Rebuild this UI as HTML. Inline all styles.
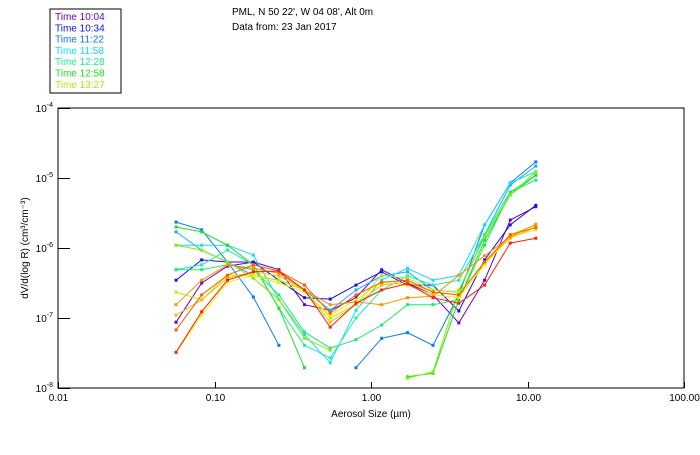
<!DOCTYPE html>
<html><head><meta charset="utf-8"><style>
body{margin:0;background:#fff;width:700px;height:450px;overflow:hidden;font-family:"Liberation Sans",sans-serif}
svg text{font-family:"Liberation Sans",sans-serif;font-size:10px}
</style></head><body>
<svg id="chart" width="700" height="450" xmlns="http://www.w3.org/2000/svg">
<rect x="50" y="9" width="71" height="84" fill="#fff" stroke="#000"/>
<g id="legend"></g>
<text x="232" y="15">PML, N 50 22', W 04 08', Alt 0m</text>
<text x="232" y="30">Data from: 23 Jan 2017</text>
<rect x="58" y="108" width="626" height="280" fill="none" stroke="#000"/>
<g id="axes"></g>
<g id="series"></g>
<text x="0" y="0" transform="translate(28,248) rotate(-90)" text-anchor="middle">dV/d(log R) (cm³/cm⁻³)</text>
<text x="371" y="417" text-anchor="middle">Aerosol Size (µm)</text>
</svg>
<script>
const sizes=[0.0568,0.0828,0.121,0.177,0.258,0.376,0.549,0.802,1.17,1.71,2.49,3.64,5.32,7.76,11.3];
const legendLabels=["Time 10:04","Time 10:34","Time 11:22","Time 11:58","Time 12:28","Time 12:58","Time 13:27"];
const xTickLabels=["0.01","0.10","1.00","10.00","100.00"];
const yTickExp=[-4,-5,-6,-7,-8];
// log10 of dV/dlogR per series
const s0=[-7.06,-6.50,-6.26,-6.20,-6.31,-6.81,-6.89,-6.71,-6.31,-6.50,-6.67,-7.07,-6.46,-5.60,-5.41];
const s1=[-6.46,-6.17,-6.20,-6.20,-6.46,-6.71,-6.73,-6.53,-6.34,-6.53,-6.53,-6.90,-6.17,-5.67,-5.39];
const s2=[-5.63,-5.74,-6.20,-6.70,-7.39,null,null,-7.71,-7.29,-7.21,-7.39,-6.67,-5.67,-5.07,-4.77];
const s3=[-5.77,-6.03,-6.20,-6.39,-6.46,-6.60,-6.89,-6.60,-6.40,-6.34,-6.60,-6.63,-5.81,-5.10,-4.83];
const s4=[-5.96,-5.96,-5.96,-6.10,-6.74,-7.24,-7.64,-6.89,-6.46,-6.29,-6.46,-6.39,-5.67,-5.07,-4.91];
const s5=[-6.31,-6.24,-6.03,-6.24,-6.86,-7.39,-7.57,-7.00,-6.60,-6.40,-6.53,-6.46,-5.81,-5.20,-4.96];
const s6=[-6.31,-6.31,-6.24,-6.31,-6.67,-7.20,-7.43,-7.31,-7.10,-6.81,-6.81,-6.74,-5.96,-5.20,-5.03];
const s7=[-5.70,-5.77,-5.96,-6.24,-6.86,-7.71,null,null,null,-7.84,-7.79,-6.74,-5.89,-5.24,-4.96];
const s8=[-5.96,-6.03,-6.20,-6.43,-6.74,-7.29,-7.46,null,null,-7.86,-7.77,-6.60,-5.84,-5.24,-4.91];
const s9=[-6.63,-6.74,-6.39,-6.39,-6.46,-6.60,-7.00,-6.81,-6.39,-6.43,-6.60,-6.63,-6.24,-5.81,-5.67];
const s10=[-7.49,-6.96,-6.49,-6.39,-6.50,-6.63,-6.96,-6.74,-6.49,-6.53,-6.67,-6.71,-6.24,-5.84,-5.74];
const s11=[-6.96,-6.74,-6.43,-6.34,-6.40,-6.60,-7.06,-6.81,-6.53,-6.49,-6.63,-6.67,-6.20,-5.86,-5.70];
const s12=[-6.81,-6.46,-6.24,-6.29,-6.36,-6.60,-6.81,-6.77,-6.81,-6.71,-6.69,-6.39,-6.11,-5.84,-5.66];
const s13=[-7.17,-6.67,-6.39,-6.24,-6.33,-6.53,-6.93,-6.67,-6.49,-6.46,-6.63,-6.67,-6.20,-5.81,-5.71];
const s14=[-7.49,-6.91,-6.46,-6.34,-6.33,-6.60,-7.13,-6.79,-6.60,-6.51,-6.71,-6.79,-6.53,-5.93,-5.86];
const allSeries=[s0,s1,s2,s3,s4,s5,s6,s7,s8,s9,s10,s11,s12,s13,s14];
const seriesColors=["#6a00c8","#1a10e8","#0a7af0","#10b0ff","#10e0f0","#18f0b0","#20e870","#20e020","#80f000","#b8f000","#f0f000","#f0c000","#ff9000","#ff5a00","#ff2000"];
const legendColors=["#6a00c8","#1010e8","#0a7af0","#10e0f0","#18f090","#20e020","#a8f000"];

const NS="http://www.w3.org/2000/svg";
const X0=58,X1=684,Y0=108,Y1=388;
function xs(v){return X0+(Math.log10(v)+2)/4*(X1-X0);}
function ys(lv){return Y0+(-4-lv)/4*(Y1-Y0);}
function mk(tag,attrs,parent){const e=document.createElementNS(NS,tag);for(const k in attrs)e.setAttribute(k,attrs[k]);parent.appendChild(e);return e;}
const axes=document.getElementById('axes');
xTickLabels.forEach((lab,i)=>{const x=Math.round(xs(Math.pow(10,i-2)))+0.5;
const tk=mk('line',{x1:x,x2:x,y1:Y1,y2:Y1-6,stroke:'#000'},axes);


const t=mk('text',{x:x,y:Y1+13,'text-anchor':'middle'},axes);t.textContent=lab;

});
yTickExp.forEach(e=>{const y=Math.round(ys(e))+0.5;
const tk=mk('line',{x1:X0,x2:X0+12,y1:y,y2:y,stroke:'#000'},axes);


const t=mk('text',{x:X0-5,y:ys(e)+4,'text-anchor':'end'},axes);t.innerHTML='10<tspan dy="-5" font-size="7">'+e+'</tspan>';

});
// series
const sg=document.getElementById('series');
allSeries.forEach((s,si)=>{const g=mk('g',{},sg);


let segs=[],cur=[];
s.forEach((lv,i)=>{if(lv===null){if(cur.length)segs.push(cur);cur=[];}else cur.push([xs(sizes[i]),ys(lv)]);});
if(cur.length)segs.push(cur);
segs.forEach(seg=>{const p=mk('polyline',{points:seg.map(q=>q.join(',')).join(' '),fill:'none',stroke:seriesColors[si],'stroke-width':1},g);


seg.forEach(q=>{const r=mk('rect',{x:q[0]-1.5,y:q[1]-1.5,width:3,height:3,fill:seriesColors[si]},g);

});});});
// legend
const lg=document.getElementById('legend');
legendLabels.forEach((lab,i)=>{const t=mk('text',{x:55,y:20+i*11.3,fill:legendColors[i]},lg);t.textContent=lab;

});
</script>
</body></html>
